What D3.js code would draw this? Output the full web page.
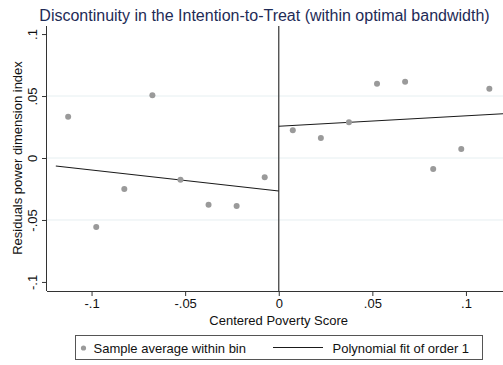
<!DOCTYPE html>
<html><head><meta charset="utf-8">
<script src="https://cdn.jsdelivr.net/npm/d3@7"></script>
<style>body{margin:0;background:#fff}svg{display:block}text{font-family:"Liberation Sans",Arial,sans-serif}</style>
</head><body><svg id="c" width="503" height="365"></svg>
<script>
const binX = [-0.1125,-0.0975,-0.0825,-0.0675,-0.0525,-0.0375,-0.0225,-0.0075,
              0.0075,0.0225,0.0375,0.0525,0.0675,0.0825,0.0975,0.1125];
const binY = [0.0333,-0.0556,-0.0250,0.0506,-0.0175,-0.0377,-0.0387,-0.0156,
              0.0223,0.0161,0.0288,0.0599,0.0615,-0.0089,0.0073,0.0559];
const fitLeftX = [-0.1191, 0];
const fitLeftY = [-0.0065, -0.0266];
const fitRightX = [0, 0.1198];
const fitRightY = [0.0256, 0.0357];
const xTicks = [-0.1,-0.05,0,0.05,0.1];
const xTickLabels = ["-.1","-.05","0",".05",".1"];
const yTicks = [-0.1,-0.05,0,0.05,0.1];
const yTickLabels = ["-.1","-.05","0",".05",".1"];
const gridY = [-0.05,0,0.05];
const titleText = "Discontinuity in the Intention-to-Treat (within optimal bandwidth)";
const xTitle = "Centered Poverty Score";
const yTitle = "Residuals power dimension index";
const legendLabels = ["Sample average within bin","Polynomial fit of order 1"];

const svg = d3.select("#c");
const x = d3.scaleLinear().domain([-0.1238, 0.1238]).range([47, 510.5]);
const y = d3.scaleLinear().domain([-0.1073, 0.1065]).range([291, 26]);
const L = 47, R = 503, T = 26, B = 291;
const FS = 13;

svg.append("defs").append("clipPath").attr("id","clip")
  .append("rect").attr("x",L).attr("y",T).attr("width",R-L).attr("height",B-T);

// gridlines
svg.append("g").selectAll("line").data(gridY).join("line")
  .attr("x1",L).attr("x2",R).attr("y1",d=>y(d)).attr("y2",d=>y(d))
  .attr("stroke","#e6eff1").attr("stroke-width",1);

// axes
const xAxis = d3.axisBottom(x).tickValues(xTicks).tickFormat((d,i)=>xTickLabels[i]).tickSize(5).tickSizeOuter(0);
const gx = svg.append("g").attr("transform",`translate(0,${B})`).call(xAxis);
gx.select(".domain").attr("d",`M${L},0.5H${R}`).attr("stroke","#333");
gx.selectAll(".tick line").attr("stroke","#333");
gx.selectAll(".tick text").attr("font-size",FS).attr("fill","#111").attr("dy","0.95em").attr("y",5);

const yAxis = d3.axisLeft(y).tickValues(yTicks).tickFormat((d,i)=>yTickLabels[i]).tickSize(5).tickSizeOuter(0);
const gy = svg.append("g").attr("transform",`translate(${L},0)`).call(yAxis);
gy.select(".domain").attr("d",`M-0.5,${T}V${B}`).attr("stroke","#333");
gy.selectAll(".tick line").attr("stroke","#333");
gy.selectAll(".tick text").attr("font-size",FS).attr("fill","#111")
  .attr("x",null).attr("dy",null)
  .attr("transform","translate(-10,0) rotate(-90)").attr("text-anchor","middle").attr("y",0);

// cutoff line
svg.append("line").attr("x1",x(0)).attr("x2",x(0)).attr("y1",T).attr("y2",B)
  .attr("stroke","#444").attr("stroke-width",1.3);

const pg = svg.append("g").attr("clip-path","url(#clip)");
const line = d3.line().x(d=>x(d[0])).y(d=>y(d[1]));
pg.append("path").attr("d",line(fitLeftX.map((v,i)=>[v,fitLeftY[i]])))
  .attr("fill","none").attr("stroke","#1a1a1a").attr("stroke-width",1.1);
pg.append("path").attr("d",line(fitRightX.map((v,i)=>[v,fitRightY[i]])))
  .attr("fill","none").attr("stroke","#1a1a1a").attr("stroke-width",1.1);
pg.selectAll("circle").data(binX).join("circle")
  .attr("cx",d=>x(d)).attr("cy",(d,i)=>y(binY[i])).attr("r",3)
  .attr("fill","#9a9a9a");

svg.append("text").attr("x",264.5).attr("y",21).attr("text-anchor","middle")
  .attr("font-size",16).attr("fill","#1e2b56").text(titleText);
svg.append("text").attr("x",278.7).attr("y",325).attr("text-anchor","middle")
  .attr("font-size",FS).attr("fill","#111").text(xTitle);
svg.append("text").attr("transform","translate(22,158) rotate(-90)").attr("text-anchor","middle")
  .attr("font-size",FS).attr("fill","#111").text(yTitle);

svg.append("rect").attr("x",75.5).attr("y",335.5).attr("width",407).attr("height",24)
  .attr("fill","#fff").attr("stroke","#555").attr("stroke-width",1);
svg.append("circle").attr("cx",83.5).attr("cy",348).attr("r",2.6).attr("fill","#9a9a9a");
svg.append("text").attr("x",93.5).attr("y",352.5).attr("font-size",FS).attr("fill","#111").text(legendLabels[0]);
svg.append("line").attr("x1",273).attr("x2",323).attr("y1",347.5).attr("y2",347.5).attr("stroke","#1a1a1a").attr("stroke-width",1.1);
svg.append("text").attr("x",332.5).attr("y",352.5).attr("font-size",FS).attr("fill","#111").text(legendLabels[1]);
</script></body></html>
